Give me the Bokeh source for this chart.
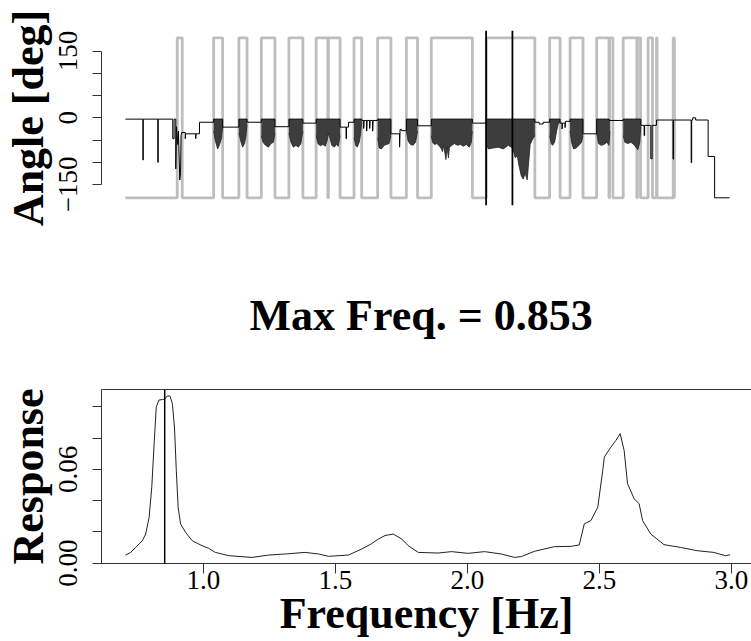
from bokeh.plotting import figure
from bokeh.models import (Range1d, FixedTicker, PrintfTickFormatter, Span,
                          LinearAxis, Title)
from bokeh.layouts import column
from bokeh.embed import file_html
from bokeh.resources import INLINE

SERIF = "Liberation Serif"

# ---------------- top panel data (time in samples, angle in degrees) -------------
gray_start = 0
gray_end = 551
gray_low = -180
gray_high = 180
# times where the grey reference square wave toggles (starts low)
gray_toggles = [52, 57, 88.5, 97.5, 113.8, 122, 136.3, 150, 164, 178, 191.3, 203,
                203.6, 215.3, 229.3, 237, 253, 266.3, 281.8, 293, 306.8, 348, 362,
                410.7, 425.5, 436, 446, 459, 472.7, 485, 485.6, 489, 499.3, 513,
                513.6, 516.7, 524.3, 528.7, 532.7, 533.3, 549.5, 550.7]

black_t = [0, 17.5, 17.5, 17.9, 17.9, 32.5, 32.5, 32.9, 32.9, 47.5, 47.5, 48.8, 48.8,
           50.5, 50.5, 51.2, 52.5, 53.2, 54.5, 55.3, 55.8, 56.5, 60, 60, 60.4, 70.5,
           70.5, 70.9, 74.3, 74.3, 88.5, 88.5, 97.5, 97.5, 113.8, 113.8, 122, 122,
           136.3, 136.3, 150, 150, 164, 164, 178, 178, 191.3, 191.3, 215.3, 215.3,
           221.3, 221.3, 221.8, 221.8, 223.7, 223.7, 229.3, 229.3, 237, 237,
           239, 239, 239.4, 242, 242, 242.4, 245, 245, 245.4, 248, 248, 248.4,
           253, 253, 266.3, 266.3, 275, 275, 275.5, 277, 277, 281.8, 281.8, 293, 293,
           306.8, 306.8, 348, 348, 362, 362, 410.7, 410.7, 415, 415, 419, 419,
           425.5, 425.5, 436, 436, 438, 438, 438.4, 441, 441, 441.4, 446, 446, 459,
           459, 472.7, 472.7, 485, 485, 499.3, 499.3, 517, 517, 520.3, 520.3, 520.8,
           520.8, 527, 527, 528.3, 528.3, 532.7, 532.7, 549.3, 549.3, 549.8, 549.8,
           567.5, 567.5, 568, 568, 569, 569, 572, 572, 584.5, 584.5, 591, 591, 606]
black_angle = [-3, -3, -95, -95, -3, -3, -100, -100, -3, -3, -47, -47, -3,
               -3, -115, -20, -60, -30, -140, -126, -40, -33, -33, -47, -36, -36,
               -47, -36, -36, -10, -10, -3, -3, -21, -21, -3, -3, -10,
               -10, -3, -3, -20, -20, -3, -3, -12, -12, -3, -3, -21,
               -21, -47, -47, -21, -21, -10, -10, -3, -3, -6,
               -6, -24, -6, -6, -30, -6, -6, -24, -6, -6, -30, -6,
               -6, -3, -3, -36, -36, -66, -26, -26, -29, -29, -3, -3, -18,
               -18, -3, -3, -12, -12, -3, -3, -10, -10, -14, -14, -10,
               -10, -3, -3, -12, -12, -25, -12, -12, -22, -8, -8, -3, -3,
               -36, -36, -3, -3, -6, -6, -3, -3, -17, -17, -40, -40,
               -17, -17, -92, -92, -17, -17, -5, -5, -93, -93, -5,
               -5, -101, -101, -5, -5, 0, 0, -5, -5, -87, -87, -180, -180]

# dense oscillation bursts: top level and lower envelope
burst_top = -3
burst_t = [
    [88.5, 90, 92.5, 94.5, 96.5, 97.5],
    [113.8, 116, 117.5, 119.5, 121, 122],
    [136.3, 138, 140.5, 143.5, 146, 148.5, 150],
    [164, 166, 168.5, 171, 173.5, 176, 178],
    [191.3, 193, 195.5, 198, 200.5, 202.5, 203.5, 205, 207, 209.5, 211.5, 213.5, 215.3],
    [229.3, 231, 232.5, 234.5, 236, 237],
    [253, 254.5, 257, 259.5, 262, 264.5, 266.3],
    [281.8, 283.5, 286, 288.5, 291, 293],
    [306.8, 308, 310, 312.5, 315, 317, 318, 319, 320.5, 321.5, 322.5, 324, 325, 327.5,
     330, 333, 336, 339, 342, 345, 347, 348],
    [362, 364, 369, 374, 379, 384, 387, 389, 391, 393, 395, 397, 399, 401, 403, 404.5,
     406, 408, 410.7],
    [425.5, 427, 428.5, 430.5, 432.5, 434, 436],
    [446, 447.5, 449.5, 452, 455, 457.5, 459],
    [472.7, 474.5, 477, 480, 483, 485, 486],
    [499.3, 501, 504, 507, 510, 512, 514, 516, 517],
]
burst_low = [
    [-30, -50, -70, -60, -45, -20],
    [-35, -55, -66, -58, -40, -15],
    [-40, -55, -62, -66, -58, -55, -35],
    [-35, -55, -66, -62, -66, -58, -30],
    [-40, -58, -63, -60, -64, -50, -35, -45, -62, -66, -60, -64, -40],
    [-45, -62, -66, -55, -35, -10],
    [-45, -68, -70, -62, -60, -58, -40],
    [-30, -52, -60, -62, -55, -30],
    [-40, -55, -60, -58, -64, -70, -76, -62, -80, -94, -66, -90, -66, -62,
     -58, -62, -60, -64, -60, -66, -55, -30],
    [-60, -70, -68, -66, -70, -62, -66, -72, -90, -85, -110, -130, -138, -125, -140,
     -100, -60, -50, -40],
    [-40, -58, -62, -55, -30, -15, -8],
    [-30, -55, -70, -68, -62, -55, -40],
    [-35, -58, -62, -60, -55, -62, -30],
    [-40, -55, -58, -55, -60, -66, -72, -55, -20],
]
marker_times = [361.8, 388.2]

# ---------------- bottom panel data -------------
freq = [0.705, 0.724, 0.743, 0.768, 0.781, 0.794, 0.804, 0.813, 0.821, 0.831, 0.844,
        0.853, 0.863, 0.873, 0.882, 0.890, 0.897, 0.904, 0.913, 0.932, 0.957, 0.995,
        1.020, 1.045, 1.096, 1.184, 1.247, 1.310, 1.385, 1.436, 1.474, 1.549, 1.600,
        1.637, 1.663, 1.688, 1.719, 1.751, 1.776, 1.814, 1.889, 1.940, 2.003, 2.065,
        2.128, 2.179, 2.204, 2.254, 2.330, 2.393, 2.424, 2.443, 2.468, 2.494, 2.513,
        2.519, 2.544, 2.563, 2.579, 2.594, 2.607, 2.632, 2.651, 2.664, 2.695, 2.745,
        2.808, 2.871, 2.934, 2.978, 2.995]
response = [0.0051, 0.0068, 0.0100, 0.0143, 0.0186, 0.0293, 0.0486, 0.0765, 0.1000,
            0.1044, 0.1048, 0.1050, 0.1071, 0.1070, 0.1022, 0.0872, 0.0593, 0.0357,
            0.0251, 0.0197, 0.0143, 0.0111, 0.0094, 0.0068, 0.0047, 0.0036, 0.0051,
            0.0058, 0.0068, 0.0058, 0.0043, 0.0051, 0.0090, 0.0124, 0.0154, 0.0176,
            0.0186, 0.0154, 0.0111, 0.0068, 0.0064, 0.0073, 0.0062, 0.0073, 0.0058,
            0.0036, 0.0041, 0.0075, 0.0105, 0.0107, 0.0116, 0.0251, 0.0272, 0.0357,
            0.0593, 0.0679, 0.0743, 0.0786, 0.0829, 0.0722, 0.0508, 0.0412, 0.0379,
            0.0272, 0.0186, 0.0118, 0.0100, 0.0079, 0.0068, 0.0047, 0.0053]
max_freq = 0.853
title_text = "Max Freq. = %.3f" % max_freq

angle_ticks = [-150, 0, 150]
angle_minor = [-100, -50, 50, 100]
resp_ticks = [0.0, 0.06]
resp_minor = [0.02, 0.04, 0.08, 0.10]
freq_ticks = [1.0, 1.5, 2.0, 2.5, 3.0]

AX = "#333333"


def style_axis(ax, size="27px"):
    ax.axis_line_color = AX
    ax.major_tick_line_color = AX
    ax.minor_tick_line_color = AX
    ax.major_tick_in = 0
    ax.minor_tick_in = 0
    ax.major_label_text_font = SERIF
    ax.major_label_text_font_size = size
    ax.major_label_text_color = "black"
    ax.axis_label_text_font = SERIF
    ax.axis_label_text_font_size = "44px"
    ax.axis_label_text_font_style = "bold"
    ax.axis_label_text_color = "black"
    ax.axis_label_standoff = 0


# ---------------- top figure -------------
p1 = figure(width=751, height=230, x_range=Range1d(-24, 628),
            y_range=Range1d(-197.3, 196.4), output_backend="svg",
            toolbar_location=None, x_axis_location=None,
            min_border_left=99, min_border_right=0, min_border_top=30,
            min_border_bottom=25)
p1.outline_line_color = None
p1.xgrid.visible = False
p1.ygrid.visible = False
p1.background_fill_color = "white"
p1.border_fill_color = "white"

gx = [gray_start]
gy = [gray_low]
state = gray_low
for tt in gray_toggles:
    gx.append(tt)
    gy.append(state)
    state = gray_high if state == gray_low else gray_low
    gx.append(tt)
    gy.append(state)
gx.append(gray_end)
gy.append(state)
p1.line(gx, gy, line_color="#BEBEBE", line_width=2.8)

for bt, bl in zip(burst_t, burst_low):
    p1.varea(x=bt, y1=[burst_top] * len(bt), y2=bl, fill_color="#3d3d3d")
    p1.line(bt, bl, line_color="#222222", line_width=0.8)

p1.line(black_t, black_angle, line_color="black", line_width=1)

for mt in marker_times:
    p1.add_layout(Span(location=mt, dimension="height", line_color="black",
                       line_width=1.8))

ya = p1.yaxis[0]
ya.ticker = FixedTicker(ticks=angle_ticks, minor_ticks=angle_minor)
ya.bounds = (-150, 150)
style_axis(ya)
ya.major_tick_out = 9
ya.minor_tick_out = 9
ya.major_label_orientation = "vertical"
ya.major_label_standoff = 15
ya.axis_label_standoff = 4
ya.axis_label = "Angle [deg]"

# ---------------- bottom figure -------------
p2 = figure(width=751, height=411, x_range=Range1d(0.6135, 3.0767),
            y_range=Range1d(-0.0003, 0.1112), output_backend="svg",
            toolbar_location=None, min_border_left=99, min_border_right=0,
            min_border_top=159, min_border_bottom=78)
p2.outline_line_color = None
p2.xgrid.visible = False
p2.ygrid.visible = False
p2.background_fill_color = "white"
p2.border_fill_color = "white"

p2.line(freq, response, line_color="#222222", line_width=1)
p2.add_layout(Span(location=max_freq, dimension="height", line_color="black",
                   line_width=1.5))

xa = p2.xaxis[0]
xa.ticker = FixedTicker(ticks=freq_ticks)
xa.formatter = PrintfTickFormatter(format="%.1f")
style_axis(xa)
xa.major_tick_out = 10
xa.major_label_standoff = -3
xa.axis_label_standoff = -3
xa.axis_label = "Frequency [Hz]"

ya2 = p2.yaxis[0]
ya2.ticker = FixedTicker(ticks=resp_ticks, minor_ticks=resp_minor)
ya2.formatter = PrintfTickFormatter(format="%.2f")
style_axis(ya2)
ya2.major_tick_out = 9
ya2.minor_tick_out = 9
ya2.major_label_orientation = "vertical"
ya2.major_label_standoff = 15
ya2.axis_label_standoff = 4
ya2.axis_label = "Response"

top_axis = LinearAxis(ticker=FixedTicker(ticks=[]), major_tick_out=0,
                      minor_tick_out=0, major_label_text_font_size="0px",
                      axis_line_color=AX)
p2.add_layout(top_axis, "above")
p2.add_layout(Title(text=title_text, align="left", offset=148, text_font=SERIF,
                    text_font_size="44px", text_font_style="bold",
                    text_color="black", standoff=100), "above")

layout = column(p1, p2, spacing=0)
open("out.html", "w").write(file_html(layout, INLINE))
